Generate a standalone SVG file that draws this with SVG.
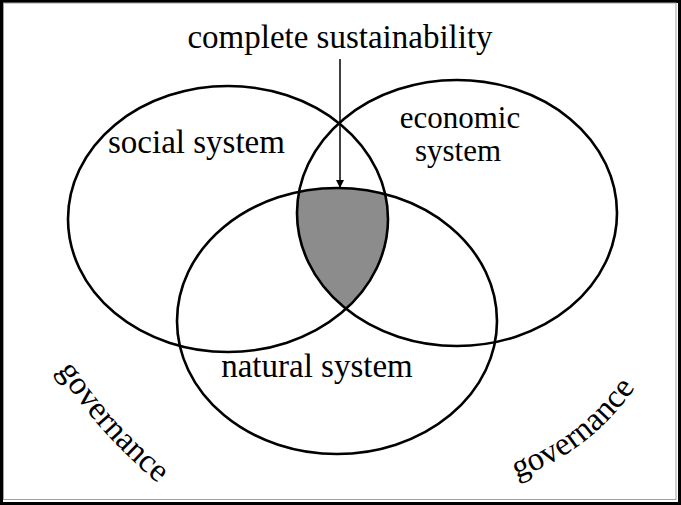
<svg xmlns="http://www.w3.org/2000/svg" width="681" height="505" viewBox="0 0 681 505">
<style>
.ring{fill:none;stroke:#000;stroke-width:2.6}
.lbl{font-family:"Liberation Serif","Times New Roman",serif;font-size:33px;fill:#000}
.sm{font-size:31px}
</style>
<defs>
<clipPath id="clipSocial"><ellipse cx="228" cy="219" rx="160" ry="133"/></clipPath>
<clipPath id="clipEconomic"><ellipse cx="457" cy="213" rx="160" ry="133"/></clipPath>
<marker id="arrow" viewBox="0 0 10 10" refX="10" refY="5" markerWidth="8" markerHeight="8" markerUnits="userSpaceOnUse" orient="auto">
<path d="M0,0 L10,5 L0,10 z" fill="#000"/>
</marker>
<path id="govLeft" d="M29.6,322 A503,503 0 0 0 202.9,516.4"/>
<path id="govRight" d="M437,492 A240,240 0 0 0 668.8,314.1"/>
</defs>
<rect x="0" y="0" width="681" height="505" fill="#fff"/>
<rect x="1.5" y="1.5" width="678" height="502" fill="none" stroke="#000" stroke-width="3"/>
<rect x="3.5" y="3" width="672.5" height="496.5" fill="none" stroke="#a0a0a0" stroke-width="1"/>
<g id="core">
<g clip-path="url(#clipSocial)">
<ellipse cx="337" cy="321" rx="160" ry="133" fill="#8c8c8c" clip-path="url(#clipEconomic)"/>
</g>
</g>
<g id="social">
<ellipse class="ring" cx="228" cy="219" rx="160" ry="133"/>
<text class="lbl" x="108" y="153">social system</text>
</g>
<g id="economic">
<ellipse class="ring" cx="457" cy="213" rx="160" ry="133"/>
<text class="lbl sm" x="460" y="128" text-anchor="middle">economic</text>
<text class="lbl sm" x="458" y="161" text-anchor="middle">system</text>
</g>
<g id="natural">
<ellipse class="ring" cx="337" cy="321" rx="160" ry="133"/>
<text class="lbl" x="317" y="377" text-anchor="middle">natural system</text>
</g>
<g id="complete">
<text class="lbl" x="340" y="48" text-anchor="middle">complete sustainability</text>
</g>
<g id="governance-left">
<text class="lbl"><textPath href="#govLeft" startOffset="50%" text-anchor="middle">governance</textPath></text>
</g>
<g id="governance-right">
<text class="lbl"><textPath href="#govRight" startOffset="50%" text-anchor="middle">governance</textPath></text>
</g>
<g id="connectors">
<line x1="340" y1="59" x2="340" y2="188" stroke="#000" stroke-width="1.5" marker-end="url(#arrow)"/>
</g>
</svg>
